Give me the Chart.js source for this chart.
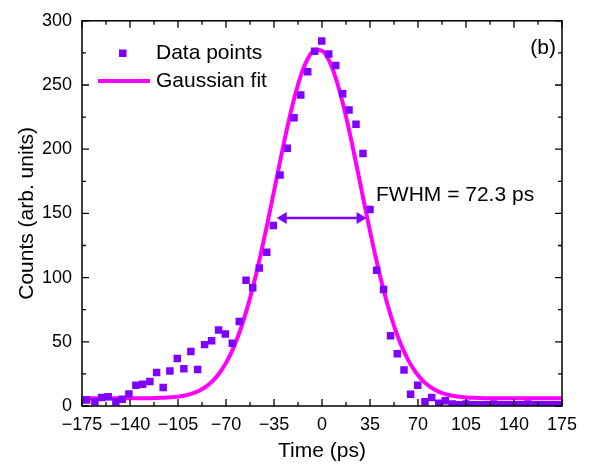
<!DOCTYPE html>
<html lang="en">
<head>
  <meta charset="UTF-8" />
  <title>Gaussian fit (b)</title>
  <script src="https://cdn.jsdelivr.net/npm/chart.js"></script>
  <style>
    body {
      margin: 0;
      background: #fff;
    }
    .wrap {
      width: 595px;
      height: 470px;
    }
  </style>
</head>
<body>
  <div class="wrap"><canvas id="fitChart"></canvas></div>

  <script>
    // measured data points (ps, counts)
    const timeData = [-171.6, -165.6, -160.7, -155.9, -150.3, -145.7, -140.8, -135.7, -130.8, -125.5,
      -120.6, -115.8, -110.9, -105.5, -100.7, -95.6, -90.7, -85.6, -80.5, -75.4,
      -70.5, -65.4, -60.3, -55.4, -50.5, -45.7, -40.3, -35.5, -30.6, -25.3,
      -20.4, -15.5, -10.4, -5.3, -0.2, 4.9, 10, 15.1, 19.7, 24.8,
      29.9, 35, 39.9, 44.9, 50, 54.9, 59.8, 64.6, 69.8, 75.1,
      80, 85.1, 89.9, 94.9, 99.9, 105, 110, 115, 120.1, 125.1,
      130.1, 135.2, 140.2, 145.2, 150.2, 155.3, 160.3, 165.3, 170.3, 174.8];
    const countData = [4.6, 3.3, 6.7, 7.2, 3.3, 5.2, 9.3, 16.2, 17, 19,
      26, 14.4, 27.2, 37, 29.1, 42.4, 28.5, 47.8, 50.9, 59.1,
      56, 48.8, 65.8, 97.9, 92, 107.4, 119.7, 140.6, 179.9, 200.7,
      224.4, 242.3, 260.4, 276.3, 284.3, 274.2, 265.2, 243.1, 230.5, 219.5,
      196.6, 153, 105.8, 90.8, 54.7, 40.7, 28.1, 9.1, 16.2, 3.3,
      6.7, 2.1, 4.1, 1.5, 1, 1.5, 1, 1, 1, 1.5,
      1, 1, 1, 1, 1.5, 1, 1, 1, 1, 1];

    // gaussian fit curve
    const fitTime = [-175, -170, -165, -160, -155, -150, -145, -140, -135, -130,
      -125, -120, -115, -110, -105, -100, -95, -90, -85, -80,
      -75, -70, -65, -60, -55, -50, -45, -40, -35, -30,
      -25, -20, -15, -10, -5, 0, 5, 10, 15, 20,
      25, 30, 35, 40, 45, 50, 55, 60, 65, 70,
      75, 80, 85, 90, 95, 100, 105, 110, 115, 120,
      125, 130, 135, 140, 145, 150, 155, 160, 165, 170, 175];
    const fitCounts = [6, 6, 6, 6, 6, 6, 6, 6, 6, 6.1,
      6.1, 6.3, 6.5, 6.8, 7.3, 8.2, 9.6, 11.7, 14.8, 19.2,
      25.3, 33.6, 44.3, 57.8, 74.5, 94.1, 116.6, 141.3, 167.3, 193.5,
      218.5, 240.7, 258.7, 271.3, 277.5, 276.7, 269.3, 255.5, 236.5, 213.6,
      188.3, 162, 136.2, 111.9, 90, 70.9, 54.9, 41.9, 31.7, 23.9,
      18.2, 14.1, 11.2, 9.3, 8, 7.2, 6.7, 6.4, 6.2, 6.1,
      6, 6, 6, 6, 6, 6, 6, 6, 6, 6, 6];

    const xTicks = [-175, -140, -105, -70, -35, 0, 35, 70, 105, 140, 175];
    const yTicks = [0, 50, 100, 150, 200, 250, 300];
    const fwhmArrow = { from: -33, to: 32.5, level: 146.5 };

    const PURPLE = '#7f00ff';
    const MAGENTA = '#ff00ff';
    const FONT = '"Liberation Sans", Arial, sans-serif';

    const toXY = (xs, ys) => xs.map((x, i) => ({ x: x, y: ys[i] }));

    // frame, inward ticks, legend, labels and the FWHM arrow
    const decor = {
      id: 'decor',
      afterDatasetsDraw(chart) {
        const ctx = chart.ctx;
        const a = chart.chartArea;
        const sx = chart.scales.x, sy = chart.scales.y;
        ctx.save();
        ctx.strokeStyle = '#000';
        ctx.lineWidth = 1.5;
        ctx.strokeRect(a.left, a.top, a.right - a.left, a.bottom - a.top);

        ctx.lineWidth = 1.3;
        ctx.beginPath();
        for (let i = 0; i < xTicks.length; i++) {
          const px = sx.getPixelForValue(xTicks[i]);
          ctx.moveTo(px, a.bottom); ctx.lineTo(px, a.bottom - 7);
          ctx.moveTo(px, a.top); ctx.lineTo(px, a.top + 7);
          if (i < xTicks.length - 1) {
            const pm = sx.getPixelForValue((xTicks[i] + xTicks[i + 1]) / 2);
            ctx.moveTo(pm, a.bottom); ctx.lineTo(pm, a.bottom - 4);
            ctx.moveTo(pm, a.top); ctx.lineTo(pm, a.top + 4);
          }
        }
        for (let i = 0; i < yTicks.length; i++) {
          const py = sy.getPixelForValue(yTicks[i]);
          ctx.moveTo(a.left, py); ctx.lineTo(a.left + 7, py);
          ctx.moveTo(a.right, py); ctx.lineTo(a.right - 7, py);
          if (i < yTicks.length - 1) {
            const pm = sy.getPixelForValue((yTicks[i] + yTicks[i + 1]) / 2);
            ctx.moveTo(a.left, pm); ctx.lineTo(a.left + 4, pm);
            ctx.moveTo(a.right, pm); ctx.lineTo(a.right - 4, pm);
          }
        }
        ctx.stroke();

        // FWHM arrow
        const ay = sy.getPixelForValue(fwhmArrow.level);
        const ax1 = sx.getPixelForValue(fwhmArrow.from);
        const ax2 = sx.getPixelForValue(fwhmArrow.to);
        ctx.strokeStyle = PURPLE;
        ctx.fillStyle = PURPLE;
        ctx.lineWidth = 2.5;
        ctx.beginPath();
        ctx.moveTo(ax1 + 6, ay); ctx.lineTo(ax2 - 6, ay);
        ctx.stroke();
        ctx.beginPath();
        ctx.moveTo(ax1, ay); ctx.lineTo(ax1 + 10, ay - 6); ctx.lineTo(ax1 + 10, ay + 6); ctx.closePath();
        ctx.moveTo(ax2, ay); ctx.lineTo(ax2 - 10, ay - 6); ctx.lineTo(ax2 - 10, ay + 6); ctx.closePath();
        ctx.fill();

        // legend
        ctx.fillStyle = PURPLE;
        ctx.fillRect(119, 49.5, 7.5, 7.5);
        ctx.strokeStyle = MAGENTA;
        ctx.lineWidth = 4;
        ctx.beginPath();
        ctx.moveTo(98, 81); ctx.lineTo(150, 81);
        ctx.stroke();

        ctx.fillStyle = '#000';
        ctx.font = '21px ' + FONT;
        ctx.textBaseline = 'middle';
        ctx.textAlign = 'left';
        ctx.fillText('Data points', 156, 53);
        ctx.fillText('Gaussian fit', 156, 81);
        ctx.fillText('FWHM = 72.3 ps', 376, 195);
        ctx.textAlign = 'right';
        ctx.fillText('(b)', 556, 48);

        // axis titles
        ctx.textAlign = 'center';
        ctx.fillText('Time (ps)', (a.left + a.right) / 2, 451);
        ctx.translate(27, (a.top + a.bottom) / 2);
        ctx.rotate(-Math.PI / 2);
        ctx.fillText('Counts (arb. units)', 0, 0);
        ctx.restore();
      }
    };

    new Chart(document.getElementById('fitChart'), {
      data: {
        datasets: [{
          type: 'scatter',
          label: 'Data points',
          data: toXY(timeData, countData),
          pointStyle: 'rect',
          pointRadius: 5.3,
          pointHoverRadius: 5.3,
          backgroundColor: PURPLE,
          borderWidth: 0,
          clip: 0
        }, {
          type: 'line',
          label: 'Gaussian fit',
          data: toXY(fitTime, fitCounts),
          borderColor: MAGENTA,
          borderWidth: 4,
          pointRadius: 0,
          cubicInterpolationMode: 'monotone',
          fill: false,
          clip: 0
        }]
      },
      options: {
        responsive: true,
        maintainAspectRatio: false,
        animation: false,
        layout: { padding: { top: 17, right: 33, left: 0, bottom: 0 } },
        plugins: {
          legend: { display: false },
          tooltip: { enabled: false }
        },
        scales: {
          x: {
            type: 'linear',
            min: -175,
            max: 175,
            afterFit: s => { s.height = 64; },
            afterBuildTicks: s => { s.ticks = xTicks.map(v => ({ value: v })); },
            grid: { display: false, drawTicks: false },
            border: { display: false },
            ticks: {
              padding: 8,
              color: '#000',
              font: { size: 18, family: FONT },
              maxRotation: 0,
              callback: v => String(v).replace('-', '\u2212')
            }
          },
          y: {
            min: 0,
            max: 300,
            afterFit: s => { s.width = 82; },
            afterBuildTicks: s => { s.ticks = yTicks.map(v => ({ value: v })); },
            grid: { display: false, drawTicks: false },
            border: { display: false },
            ticks: {
              padding: 10,
              color: '#000',
              font: { size: 18, family: FONT }
            }
          }
        }
      },
      plugins: [decor]
    });
  </script>
</body>
</html>
